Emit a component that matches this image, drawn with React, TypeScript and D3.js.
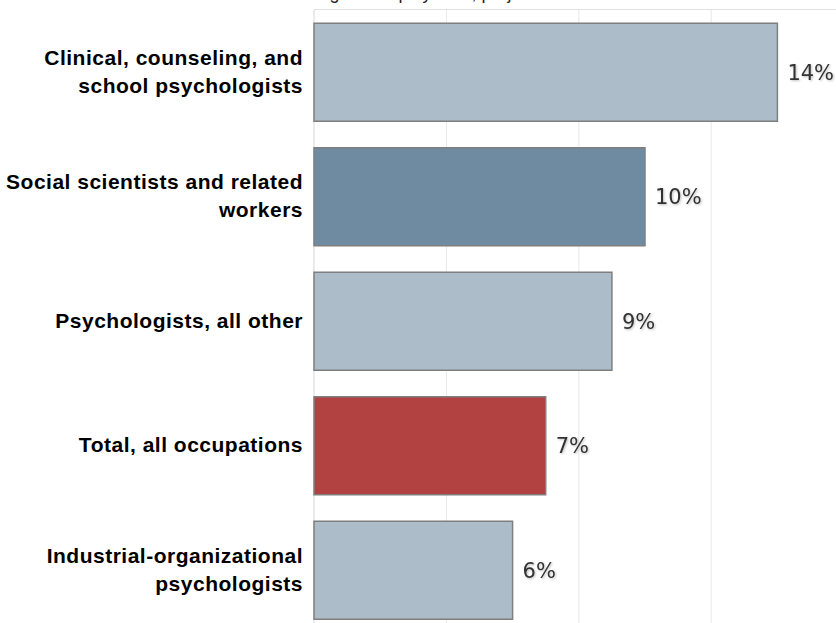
import React from "react";
import * as d3 from "d3";

const categories = [
  ["Clinical, counseling, and", "school psychologists"],
  ["Social scientists and related", "workers"],
  ["Psychologists, all other"],
  ["Total, all occupations"],
  ["Industrial-organizational", "psychologists"],
];
const values = [14, 10, 9, 7, 6];
const valueLabels = ["14%", "10%", "9%", "7%", "6%"];
const barKinds = ["light", "dark", "light", "total", "light"];
const gridTicks = [0, 4, 8, 12, 16];
const title = "Percent change in employment, projected 2016-26";

const colors: Record<string, string> = {
  light: "#acbcc8",
  dark: "#6f8ba2",
  total: "#b24242",
};

export default function App() {
  const W = 836;
  const H = 623;
  const left = 314;
  const top = 10;
  const x = d3.scaleLinear().domain([0, 4]).range([left, left + 132.4]);
  const idx = categories.map((_, i) => String(i));
  const y = d3
    .scaleBand()
    .domain(idx)
    .range([top, top + 124.5 * 5])
    .paddingInner(26.5 / 124.5)
    .paddingOuter(13.25 / 124.5);

  return (
    <svg
      width={W}
      height={H}
      style={{ position: "absolute", left: 0, top: 0, background: "#fff" }}
    >
      <defs>
        <filter id="ts" x="-20%" y="-20%" width="140%" height="140%">
          <feDropShadow dx="1" dy="1" stdDeviation="0.8" floodColor="#000" floodOpacity="0.25" />
        </filter>
      </defs>
      <text
        x={425}
        y={-1}
        textAnchor="middle"
        fontFamily="Liberation Sans, Arial, sans-serif"
        fontSize={18}
        fill="#222"
      >
        {title}
      </text>
      <line x1={left} x2={W} y1={top - 0.5} y2={top - 0.5} stroke="#e2e2e2" strokeWidth={1} />
      {gridTicks.map((t) => (
        <line
          key={t}
          x1={x(t)}
          x2={x(t)}
          y1={top}
          y2={H + 20}
          stroke={t === 0 ? "#d6d6d6" : "#e8e8e8"}
          strokeWidth={1}
        />
      ))}
      {values.map((v, i) => {
        const by = y(String(i))!;
        const bh = y.bandwidth();
        return (
          <g key={i}>
            <rect
              x={x(0)}
              y={by}
              width={x(v) - x(0)}
              height={bh}
              fill={colors[barKinds[i]]}
              stroke="#7f7f7f"
              strokeWidth={1.5}
            />
            <text
              x={x(v) + 10}
              y={by + bh / 2}
              dy="0.35em"
              fontFamily="DejaVu Sans, Verdana, sans-serif"
              fontSize={21}
              fill="#333"
              filter="url(#ts)"
            >
              {valueLabels[i]}
            </text>
            {categories[i].map((line, j) => {
              const n = categories[i].length;
              const cy = by + bh / 2 + (j - (n - 1) / 2) * 28;
              return (
                <text
                  key={j}
                  x={303}
                  y={cy}
                  dy="0.3em"
                  textAnchor="end"
                  fontFamily="Liberation Sans, Arial, sans-serif"
                  fontWeight="bold"
                  fontSize={21}
                  letterSpacing={0.5}
                  fill="#000"
                >
                  {line}
                </text>
              );
            })}
          </g>
        );
      })}
    </svg>
  );
}
